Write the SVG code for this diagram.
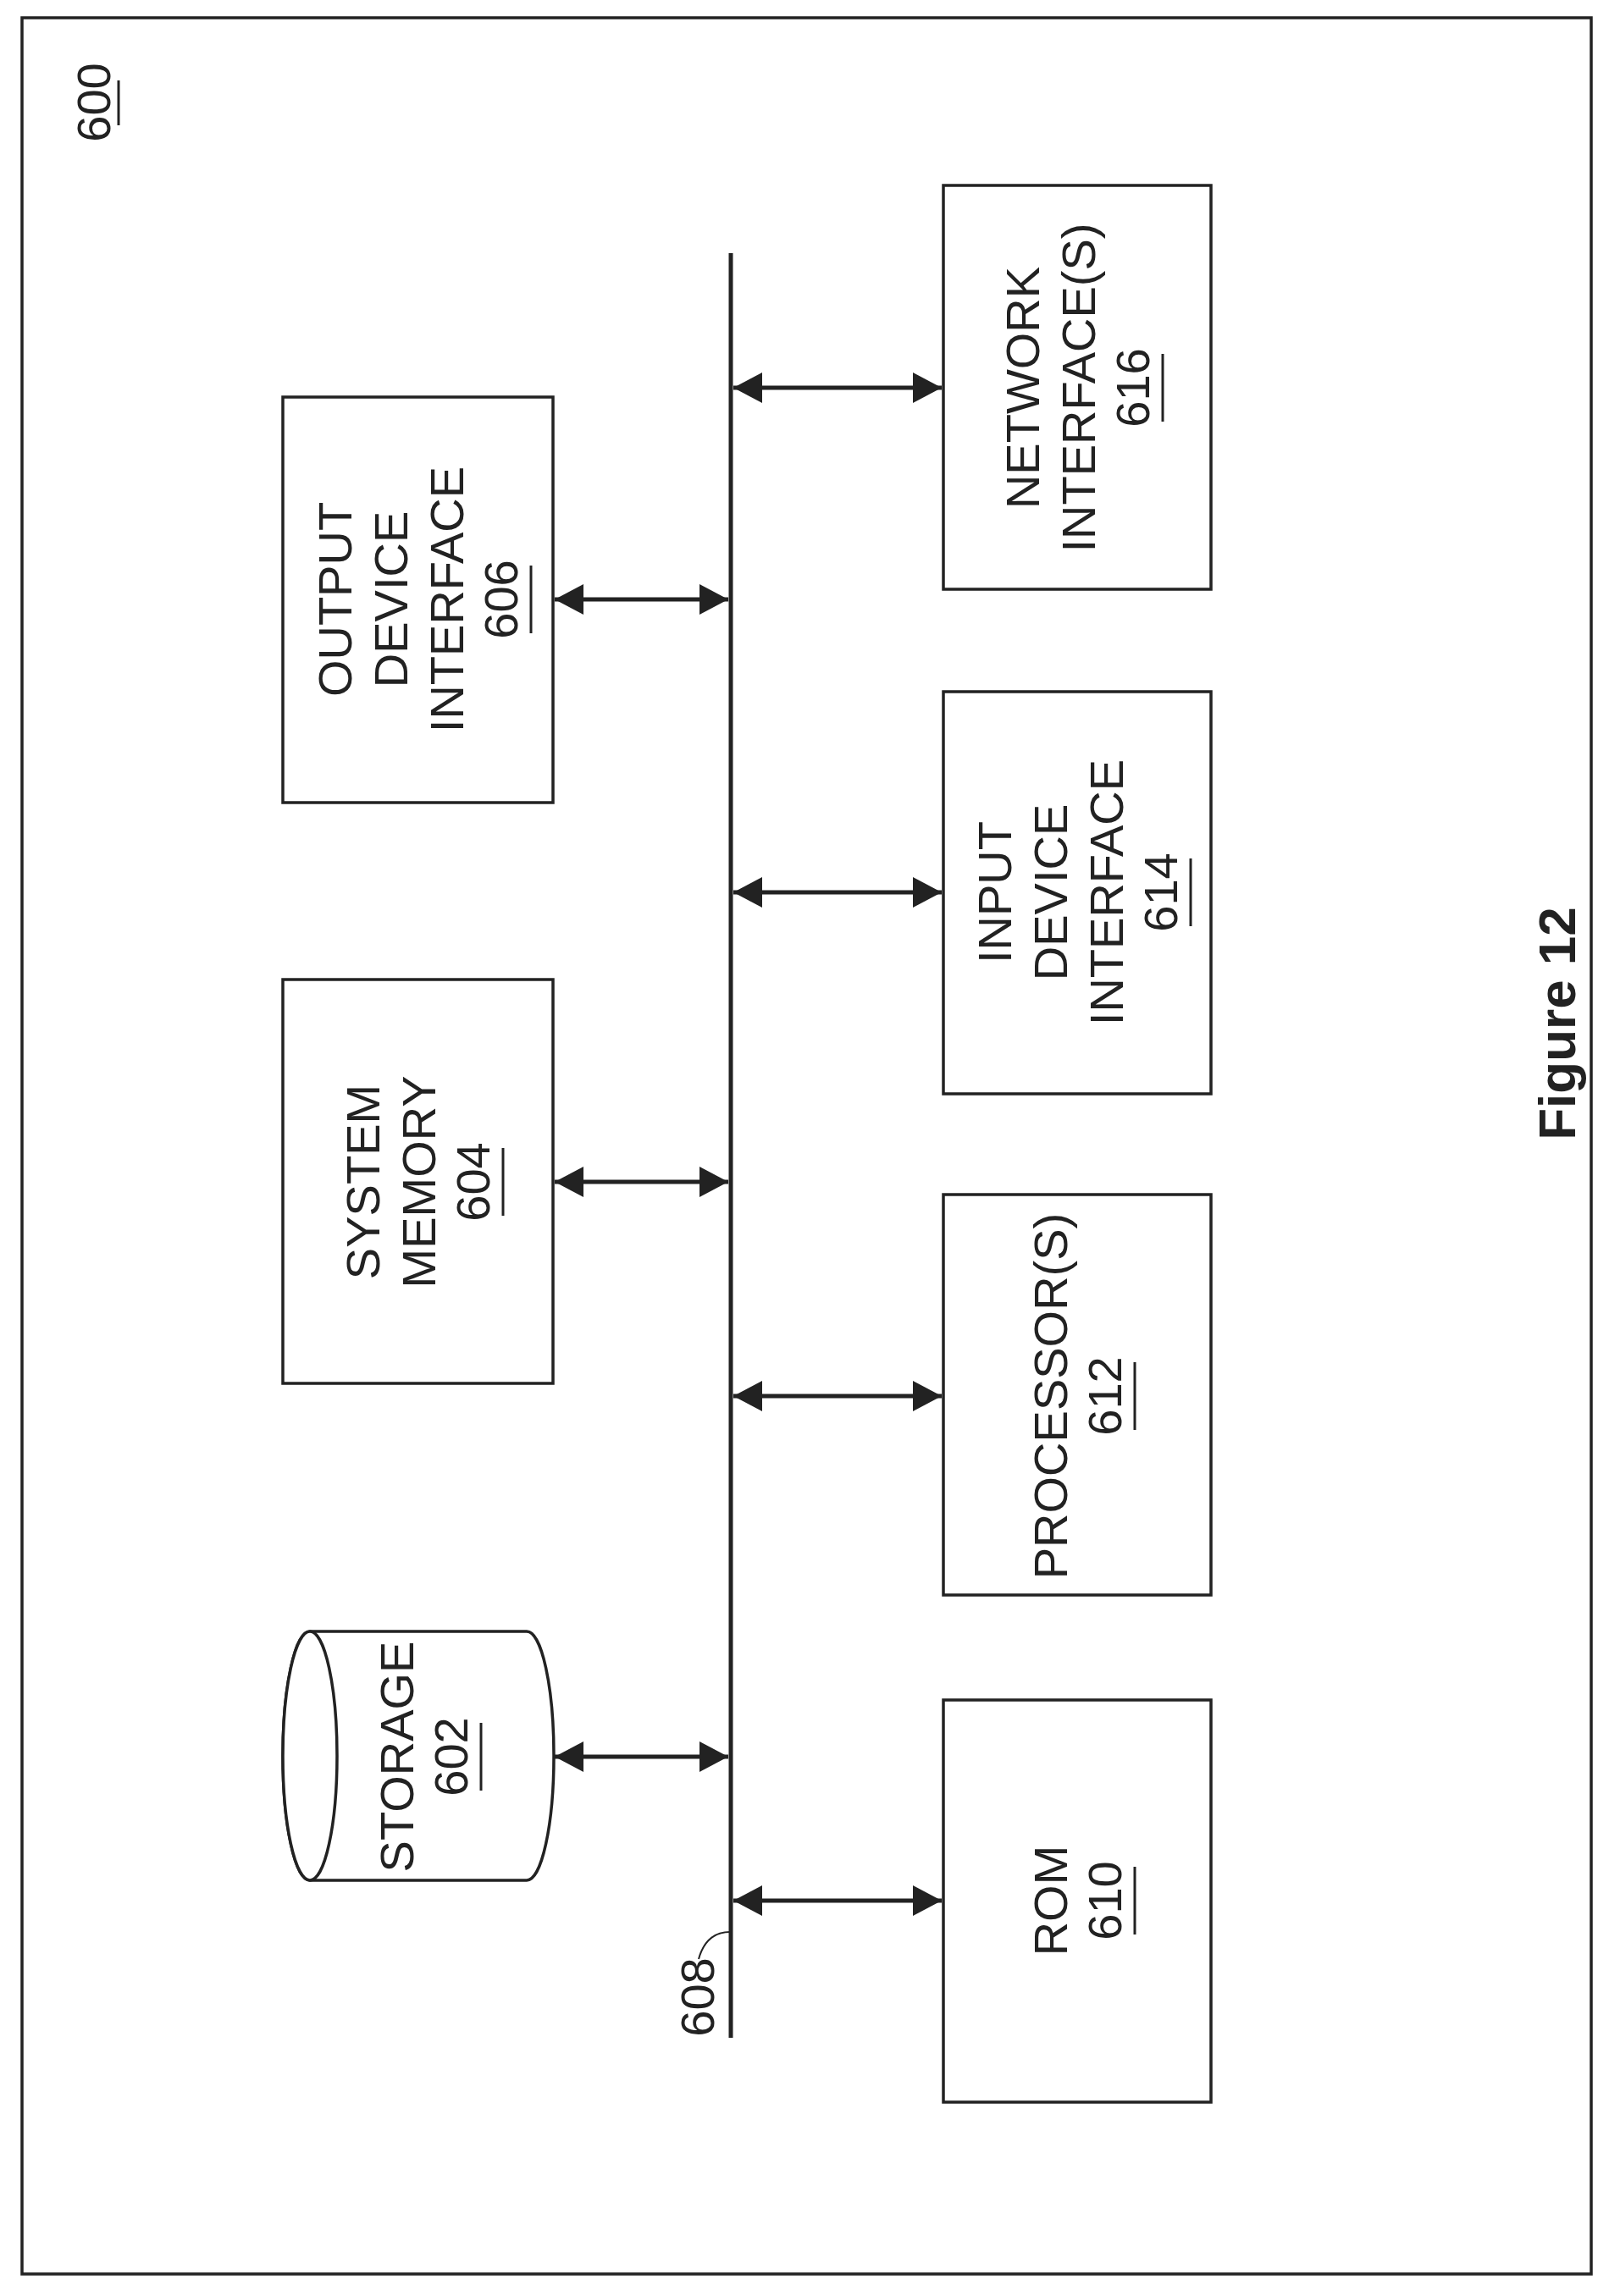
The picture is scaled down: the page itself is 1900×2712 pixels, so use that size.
<svg xmlns="http://www.w3.org/2000/svg" width="1900" height="2712" viewBox="0 0 1900 2712">
<defs>
<marker id="ah" viewBox="0 0 10 10" refX="10" refY="5" markerWidth="9" markerHeight="9" markerUnits="userSpaceOnUse" orient="auto-start-reverse"><path d="M0,0 L10,5 L0,10 z" fill="#222"/></marker>
<style>
.b{fill:#fff;stroke:#222;stroke-width:3.5}
.t{font-family:"Liberation Sans",Arial,sans-serif;font-size:56px;fill:#222;text-anchor:middle}
.c{stroke:#222;stroke-width:5;fill:none}
.u{stroke:#222;stroke-width:3}
</style>
<marker id="a" viewBox="0 0 34 36" refX="34" refY="18" markerWidth="34" markerHeight="36" markerUnits="userSpaceOnUse" orient="auto-start-reverse"><path d="M0,0 L34,18 L0,36 z" fill="#222"/></marker>
</defs>
<rect x="26" y="21" width="1853" height="2665" fill="none" stroke="#222" stroke-width="3.5"/>
<g id="label600"><text class="t" transform="translate(130,121) rotate(-90)">600</text><line class="u" x1="140" y1="95" x2="140" y2="148"/></g>
<g id="n606"><rect class="b" x="334" y="469" width="319" height="479"/>
<g transform="translate(493,708) rotate(-90)"><text class="t" y="-78">OUTPUT</text><text class="t" y="-12">DEVICE</text><text class="t" y="54">INTERFACE</text><text class="t" y="118">606</text><line class="u" x1="-40" y1="134" x2="40" y2="134"/></g></g>
<g id="n604"><rect class="b" x="334" y="1157" width="319" height="477"/>
<g transform="translate(493,1396) rotate(-90)"><text class="t" y="-45">SYSTEM</text><text class="t" y="21">MEMORY</text><text class="t" y="85">604</text><line class="u" x1="-40" y1="101" x2="40" y2="101"/></g></g>
<g id="n602"><path class="b" d="M366,1927 L622,1927 A32,147 0 0 1 622,2221 L366,2221 A32,147 0 0 1 366,1927 Z"/><ellipse class="b" cx="366" cy="2074" rx="32" ry="147"/>
<g transform="translate(500,2075) rotate(-90)"><text class="t" y="-12">STORAGE</text><text class="t" y="52">602</text><line class="u" x1="-40" y1="68" x2="40" y2="68"/></g></g>
<g id="n616"><rect class="b" x="1114" y="219" width="316" height="477"/>
<g transform="translate(1272,458) rotate(-90)"><text class="t" y="-45">NETWORK</text><text class="t" y="21">INTERFACE(S)</text><text class="t" y="85">616</text><line class="u" x1="-40" y1="101" x2="40" y2="101"/></g></g>
<g id="n614"><rect class="b" x="1114" y="817" width="316" height="475"/>
<g transform="translate(1272,1054) rotate(-90)"><text class="t" y="-78">INPUT</text><text class="t" y="-12">DEVICE</text><text class="t" y="54">INTERFACE</text><text class="t" y="118">614</text><line class="u" x1="-40" y1="134" x2="40" y2="134"/></g></g>
<g id="n612"><rect class="b" x="1114" y="1411" width="316" height="473"/>
<g transform="translate(1272,1649) rotate(-90)"><text class="t" y="-12">PROCESSOR(S)</text><text class="t" y="52">612</text><line class="u" x1="-40" y1="68" x2="40" y2="68"/></g></g>
<g id="n610"><rect class="b" x="1114" y="2008" width="316" height="475"/>
<g transform="translate(1272,2245) rotate(-90)"><text class="t" y="-12">ROM</text><text class="t" y="52">610</text><line class="u" x1="-40" y1="68" x2="40" y2="68"/></g></g>
<g id="bus608"><line x1="863" y1="299" x2="863" y2="2407" stroke="#222" stroke-width="5"/>
<path d="M862,2282 C840,2282 830,2296 825,2314" fill="none" stroke="#222" stroke-width="2"/>
<text class="t" transform="translate(843,2359) rotate(-90)">608</text></g>
<g id="connectors">
<line class="c" x1="655" y1="708" x2="860" y2="708" marker-start="url(#a)" marker-end="url(#a)"/>
<line class="c" x1="655" y1="1396" x2="860" y2="1396" marker-start="url(#a)" marker-end="url(#a)"/>
<line class="c" x1="655" y1="2075" x2="860" y2="2075" marker-start="url(#a)" marker-end="url(#a)"/>
<line class="c" x1="866" y1="458" x2="1112" y2="458" marker-start="url(#a)" marker-end="url(#a)"/>
<line class="c" x1="866" y1="1054" x2="1112" y2="1054" marker-start="url(#a)" marker-end="url(#a)"/>
<line class="c" x1="866" y1="1649" x2="1112" y2="1649" marker-start="url(#a)" marker-end="url(#a)"/>
<line class="c" x1="866" y1="2245" x2="1112" y2="2245" marker-start="url(#a)" marker-end="url(#a)"/>
</g>
<text transform="translate(1860,1209) rotate(-90)" font-family="Liberation Sans,Arial,sans-serif" font-size="62" font-weight="bold" fill="#222" text-anchor="middle">Figure 12</text>
</svg>
